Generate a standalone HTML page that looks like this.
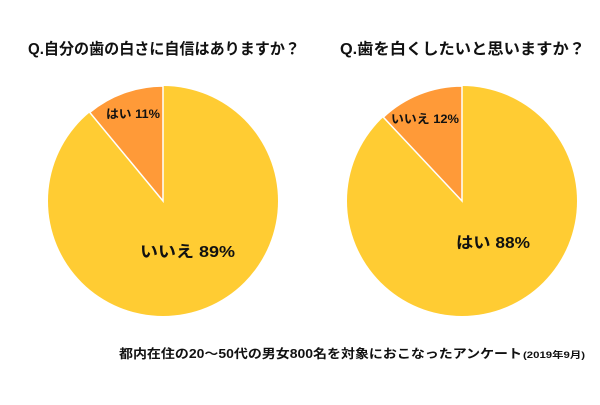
<!DOCTYPE html>
<html><head><meta charset="utf-8"><style>
body{margin:0;background:#fff;}
svg text{font-family:"Liberation Sans","Noto Sans CJK JP",sans-serif;font-weight:bold;fill:#111;}
</style></head><body>
<svg width="600" height="400" viewBox="0 0 600 400" xmlns="http://www.w3.org/2000/svg">
<rect width="600" height="400" fill="#fff"/>
<text x="28" y="54" font-size="15.5" textLength="272" lengthAdjust="spacingAndGlyphs">Q.自分の歯の白さに自信はありますか？</text>
<text x="340" y="54" font-size="15.5" textLength="245" lengthAdjust="spacingAndGlyphs">Q.歯を白くしたいと思いますか？</text>
<circle cx="163" cy="201" r="115" fill="#FFCC33"/>
<path d="M163,201 L163,86 A115,115 0 0,0 89.7,112.4 Z" fill="#FF9A38" stroke="#fff" stroke-width="1.5"/>
<text x="106" y="118" font-size="12" textLength="54" lengthAdjust="spacingAndGlyphs">はい 11%</text>
<text x="140" y="257" font-size="16" textLength="95" lengthAdjust="spacingAndGlyphs">いいえ 89%</text>
<circle cx="462" cy="201" r="115" fill="#FFCC33"/>
<path d="M462,201 L462,86 A115,115 0 0,0 383.3,117.2 Z" fill="#FF9A38" stroke="#fff" stroke-width="1.5"/>
<text x="391" y="123" font-size="12" textLength="68" lengthAdjust="spacingAndGlyphs">いいえ 12%</text>
<text x="456" y="248" font-size="16" textLength="74" lengthAdjust="spacingAndGlyphs">はい 88%</text>
<text x="119" y="358" font-size="12.5" textLength="403" lengthAdjust="spacingAndGlyphs">都内在住の20〜50代の男女800名を対象におこなったアンケート</text>
<text x="523" y="358" font-size="9" textLength="62" lengthAdjust="spacingAndGlyphs">(2019年9月)</text>
</svg>
</body></html>
